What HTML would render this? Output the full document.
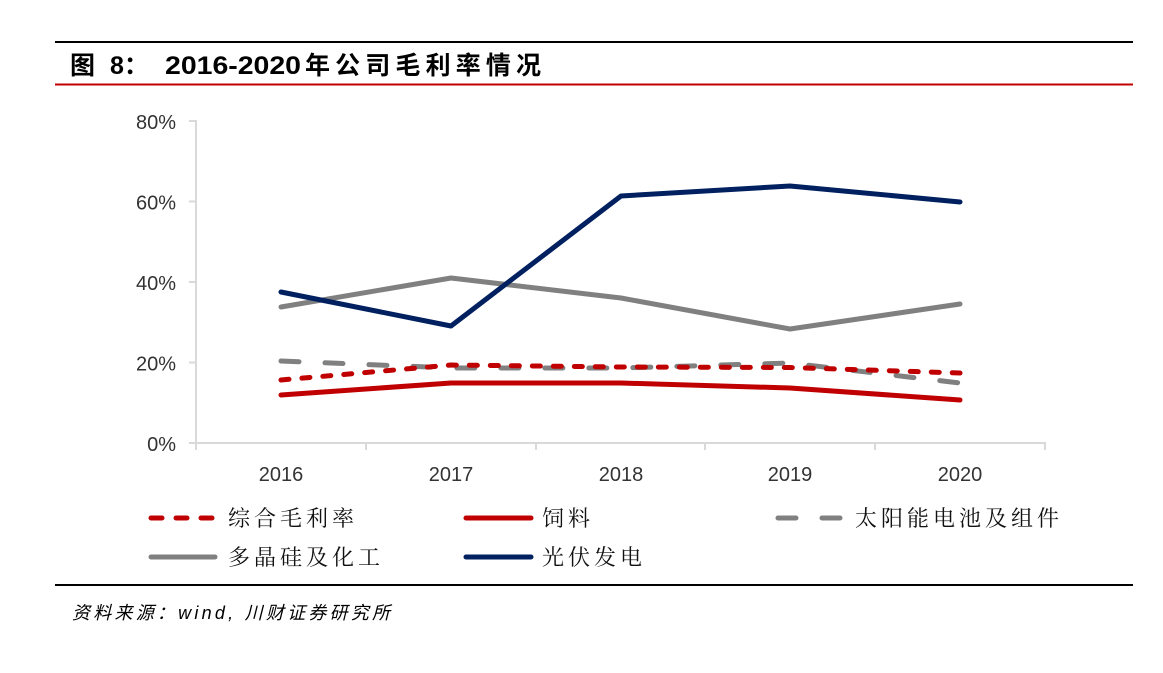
<!DOCTYPE html>
<html><head><meta charset="utf-8"><style>
html,body{margin:0;padding:0;background:#fff;}
body{width:1163px;height:673px;overflow:hidden;position:relative;}
svg{position:absolute;left:0;top:0;}
</style></head><body>
<svg width="1163" height="673" viewBox="0 0 1163 673" xmlns="http://www.w3.org/2000/svg">
<!-- header lines -->
<rect x="55" y="41" width="1078" height="2" fill="#000"/>
<rect x="55" y="83.5" width="1078" height="2" fill="#c00000"/>
<g font-family="'Liberation Sans','Noto Sans CJK SC',sans-serif" font-weight="bold" font-size="25" fill="#000">
<text x="70" y="74">图</text>
<text x="110" y="74">8：</text>
<text x="165" y="74" textLength="136" lengthAdjust="spacingAndGlyphs">2016-2020</text>
<text x="305" y="74" textLength="236" lengthAdjust="spacing">年公司毛利率情况</text>
</g>

<!-- axes -->
<g stroke="#d9d9d9" stroke-width="2" fill="none">
<line x1="196" y1="120" x2="196" y2="444"/>
<line x1="189" y1="121" x2="196" y2="121"/>
<line x1="189" y1="201.5" x2="196" y2="201.5"/>
<line x1="189" y1="282" x2="196" y2="282"/>
<line x1="189" y1="362.5" x2="196" y2="362.5"/>
<line x1="189" y1="443" x2="1046" y2="443"/>
<line x1="196" y1="443" x2="196" y2="450"/>
<line x1="366" y1="443" x2="366" y2="450"/>
<line x1="536" y1="443" x2="536" y2="450"/>
<line x1="705" y1="443" x2="705" y2="450"/>
<line x1="875" y1="443" x2="875" y2="450"/>
<line x1="1045" y1="443" x2="1045" y2="450"/>
</g>
<g font-family="'Liberation Sans',sans-serif" font-size="20" fill="#333" text-anchor="end">
<text x="176" y="129">80%</text>
<text x="176" y="209.5">60%</text>
<text x="176" y="290">40%</text>
<text x="176" y="370.5">20%</text>
<text x="176" y="451">0%</text>
</g>
<g font-family="'Liberation Sans',sans-serif" font-size="20" fill="#333" text-anchor="middle">
<text x="281" y="481">2016</text>
<text x="451" y="481">2017</text>
<text x="621" y="481">2018</text>
<text x="790" y="481">2019</text>
<text x="960" y="481">2020</text>
</g>

<!-- series -->
<g fill="none" stroke-width="5" stroke-linejoin="round" stroke-linecap="round">
<polyline stroke="#c00000" points="281,395 451,383 621,383 790,388 960,400"/>
<polyline stroke="#808080" stroke-dasharray="18 26" points="281,361 451,368 621,368 790,363 960,383"/>
<polyline stroke="#c00000" stroke-dasharray="8 13" points="281,380 451,365 621,367 790,367.5 960,373"/>
<polyline stroke="#808080" points="281,307 451,278 621,298 790,329 960,304"/>
<polyline stroke="#002060" points="281,292 451,326 621,196 790,186 960,202"/>
</g>

<!-- legend -->
<g fill="none" stroke-width="5" stroke-linecap="round">
<line x1="151" y1="518" x2="215" y2="518" stroke="#c00000" stroke-dasharray="11 14"/>
<line x1="466" y1="518" x2="531" y2="518" stroke="#c00000"/>
<line x1="778" y1="518" x2="841" y2="518" stroke="#808080" stroke-dasharray="18 26"/>
<line x1="151" y1="557" x2="215" y2="557" stroke="#808080"/>
<line x1="466" y1="557" x2="531" y2="557" stroke="#002060"/>
</g>
<g font-family="'Liberation Serif','Noto Serif CJK SC',serif" font-size="22" fill="#111" letter-spacing="4">
<text x="228" y="526">综合毛利率</text>
<text x="542" y="526">饲料</text>
<text x="855" y="526">太阳能电池及组件</text>
<text x="228" y="565">多晶硅及化工</text>
<text x="542" y="565">光伏发电</text>
</g>

<rect x="55" y="584" width="1078" height="2" fill="#000"/>
<text x="72" y="619" font-family="'Liberation Sans','Noto Sans CJK SC',sans-serif" font-style="italic" font-size="18" fill="#000" textLength="318" lengthAdjust="spacing">资料来源：wind, 川财证券研究所</text>
</svg>
</body></html>
